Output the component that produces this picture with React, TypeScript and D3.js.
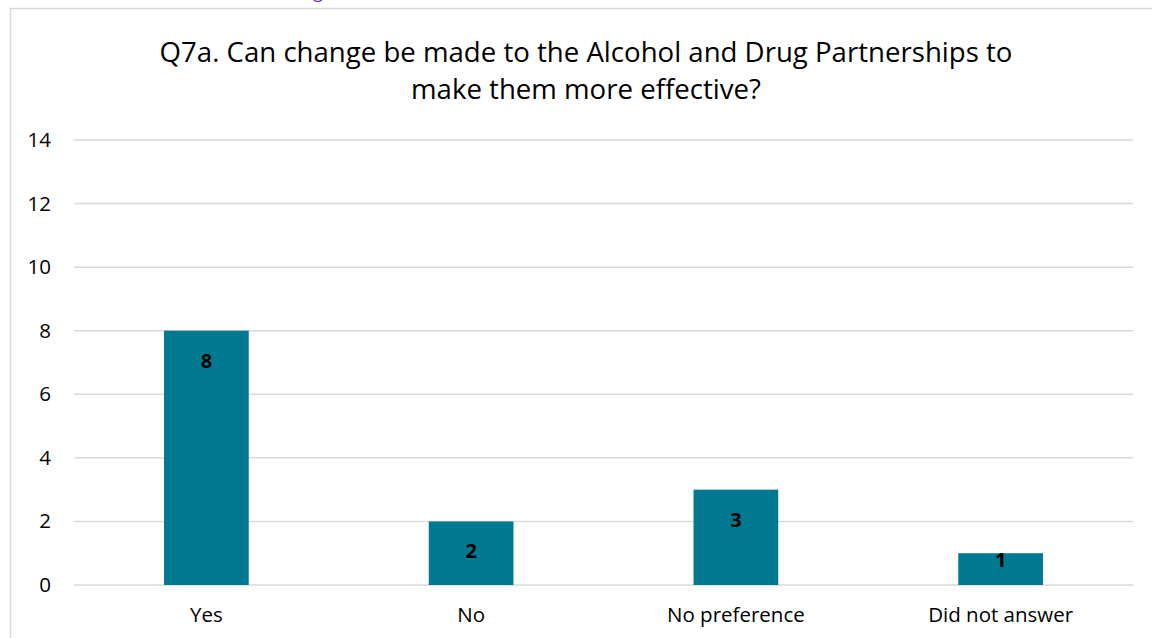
import React from "react";
import * as d3 from "d3";

const categories = ["Yes", "No", "No preference", "Did not answer"];
const values = [8, 2, 3, 1];
const yTicks = [0, 2, 4, 6, 8, 10, 12, 14];
const titleLines = [
  "Q7a. Can change be made to the Alcohol and Drug Partnerships to",
  "make them more effective?",
];

const W = 1152;
const H = 638;
const FONT = "'Open Sans', Lato, sans-serif";

export default function App() {
  const left = 74;
  const right = 1133;
  const top = 140;
  const bottom = 585;
  const x = d3.scaleBand<string>().domain(categories).range([left, right]).padding(0);
  const y = d3.scaleLinear().domain([0, 14]).range([bottom, top]);
  const barW = x.bandwidth() * 0.32;

  return (
    <svg
      width={W}
      height={H}
      style={{ position: "absolute", left: 0, top: 0, background: "#fff" }}
      fontFamily={FONT}
    >
      <text x={313} y={-2} fontSize={18} fill="#7030A0" fontFamily={FONT}>
        g
      </text>
      <rect x={10.5} y={8.5} width={1160} height={660} fill="none" stroke="#d9d9d9" strokeWidth={1.5} />
      {titleLines.map((t, i) => (
        <text key={i} x={586} y={62 + i * 37} textAnchor="middle" fontSize={27.6} fill="#000">
          {t}
        </text>
      ))}
      {yTicks.map((t) => (
        <g key={t}>
          <line x1={left} x2={right} y1={y(t)} y2={y(t)} stroke="#d9d9d9" strokeWidth={1.5} />
          <text x={51} y={y(t) + 7} textAnchor="end" fontSize={20.5} fill="#000">
            {t}
          </text>
        </g>
      ))}
      {categories.map((c, i) => {
        const cx = (x(c) as number) + x.bandwidth() / 2;
        const yt = y(values[i]);
        const labelY = Math.min(yt + 37, bottom - 18);
        return (
          <g key={c}>
            <rect x={cx - barW / 2} y={yt} width={barW} height={bottom - yt} fill="#007991" />
            <text x={cx} y={labelY} textAnchor="middle" fontSize={20} fontWeight="bold" fill="#000">
              {values[i]}
            </text>
            <text x={cx} y={622} textAnchor="middle" fontSize={20.5} fill="#000">
              {c}
            </text>
          </g>
        );
      })}
    </svg>
  );
}
